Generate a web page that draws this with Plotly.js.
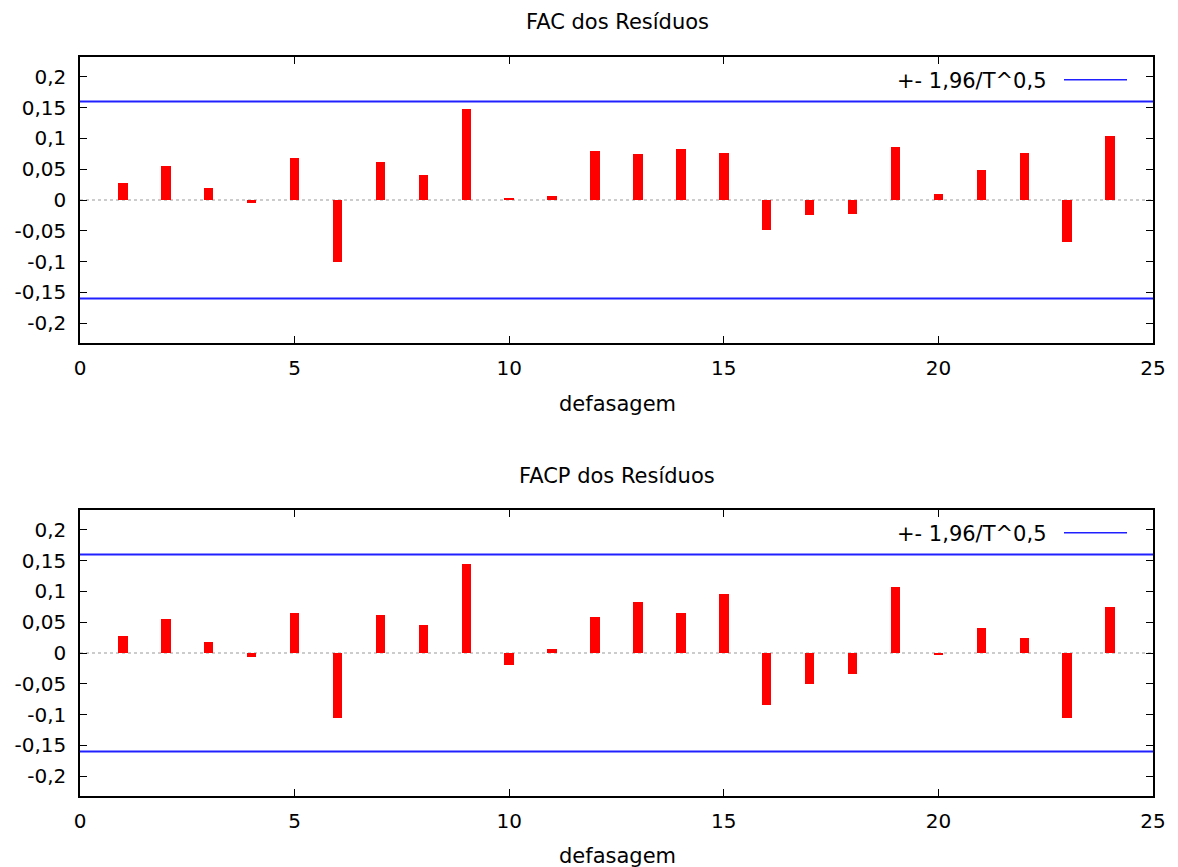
<!DOCTYPE html>
<html>
<head>
<meta charset="utf-8">
<script src="https://cdn.plot.ly/plotly-3.0.1.min.js"></script>
<style>html,body{margin:0;padding:0;background:#fff}#chart{width:1178px;height:867px}</style>
</head>
<body>
<div id="chart"></div>
<script>
const lags = [1,2,3,4,5,6,7,8,9,10,11,12,13,14,15,16,17,18,19,20,21,22,23,24];
const facValues = [0.028,0.055,0.019,-0.005,0.068,-0.101,0.061,0.040,0.147,0.004,0.006,0.080,
                   0.074,0.083,0.077,-0.049,-0.025,-0.022,0.086,0.010,0.049,0.077,-0.068,0.104];
const facpValues = [0.028,0.055,0.018,-0.007,0.065,-0.105,0.061,0.046,0.144,-0.019,0.006,0.059,
                    0.082,0.065,0.095,-0.084,-0.050,-0.034,0.107,-0.002,0.040,0.025,-0.105,0.074];
const bound = 0.16;
const titles = ["FAC dos Resíduos", "FACP dos Resíduos"];
const xLabel = "defasagem";
const legendLabel = "+- 1,96/T^0,5";
const xTickVals = [0,5,10,15,20,25];
const xTickText = ["0","5","10","15","20","25"];
const yTickVals = [0.2,0.15,0.1,0.05,0,-0.05,-0.1,-0.15,-0.2];
const yTickText = ["0,2","0,15","0,1","0,05","0","-0,05","-0,1","-0,15","-0,2"];

const FONT = "DejaVu Sans, Verdana, sans-serif";
const TICK_SIZE = 20, TEXT_SIZE = 21;
const W = 1178, H = 867;
const L = 80, R = 1153;
const panels = [
  {top: 57, bottom: 343, titleY: 22, labelY: 404, values: facValues},
  {top: 510, bottom: 796, titleY: 476, labelY: 856, values: facpValues}
];

const traces = [];
const shapes = [];
const annotations = [];
const layout = {
  width: W, height: H,
  margin: {l: L, r: W - R, t: 0, b: 0},
  paper_bgcolor: "#fff", plot_bgcolor: "#fff",
  showlegend: false,
  font: {family: FONT, size: TICK_SIZE, color: "#000"},
  bargap: 0
};

panels.forEach((p, i) => {
  const n = i + 1;
  const xa = "x" + (n === 1 ? "" : n), ya = "y" + (n === 1 ? "" : n);
  const axKey = n === 1 ? "" : String(n);
  traces.push({
    type: "bar", x: lags, y: p.values, xaxis: xa, yaxis: ya,
    width: 0.22, marker: {color: "#ff0000", line: {width: 0}},
    hoverinfo: "x+y"
  });
  layout["xaxis" + axKey] = {
    domain: [0, 1], anchor: ya, range: [0, 25],
    tickvals: xTickVals, ticktext: xTickText,
    ticks: "inside", ticklen: 7, tickwidth: 1.2, tickcolor: "#000",
    ticklabelstandoff: 6,
    showline: true, linecolor: "#000", linewidth: 1.5, mirror: "ticks",
    showgrid: false, zeroline: false,
    tickfont: {family: FONT, size: TICK_SIZE, color: "#000"}
  };
  layout["yaxis" + axKey] = {
    domain: [1 - p.bottom / H, 1 - p.top / H], anchor: xa, range: [-0.232, 0.232],
    tickvals: yTickVals, ticktext: yTickText,
    ticks: "inside", ticklen: 7, tickwidth: 1.2, tickcolor: "#000",
    ticklabelstandoff: 8,
    showline: true, linecolor: "#000", linewidth: 1.5, mirror: "ticks",
    showgrid: false, zeroline: false,
    tickfont: {family: FONT, size: TICK_SIZE, color: "#000"}
  };
  // zero dotted line
  shapes.push({type: "line", xref: xa + " domain", yref: ya, x0: 0, x1: 1, y0: 0, y1: 0,
               line: {color: "#999", width: 1.2, dash: "dot"}, layer: "below"});
  // bounds
  [bound, -bound].forEach(b => shapes.push({
    type: "line", xref: xa + " domain", yref: ya, x0: 0, x1: 1, y0: b, y1: b,
    line: {color: "#2020ff", width: 2}
  }));
  // legend sample
  shapes.push({type: "line", xref: "paper", yref: ya,
               x0: (1064 - L) / (R - L), x1: (1127 - L) / (R - L), y0: 0.195, y1: 0.195,
               line: {color: "#2020ff", width: 1.5}});
  annotations.push({xref: "paper", yref: ya, x: (1049 - L) / (R - L), y: 0.193,
                    xanchor: "right", yanchor: "middle", showarrow: false,
                    text: legendLabel, font: {family: FONT, size: TEXT_SIZE, color: "#000"}});
  annotations.push({xref: "paper", yref: "paper", x: (617 - L) / (R - L), y: 1 - p.titleY / H,
                    xanchor: "center", yanchor: "middle", showarrow: false,
                    text: titles[i], font: {family: FONT, size: TEXT_SIZE, color: "#000"}});
  annotations.push({xref: "paper", yref: "paper", x: (617 - L) / (R - L), y: 1 - p.labelY / H,
                    xanchor: "center", yanchor: "middle", showarrow: false,
                    text: xLabel, font: {family: FONT, size: TEXT_SIZE, color: "#000"}});
});
layout.shapes = shapes;
layout.annotations = annotations;

Plotly.newPlot("chart", traces, layout, {displayModeBar: false});
</script>
</body>
</html>
